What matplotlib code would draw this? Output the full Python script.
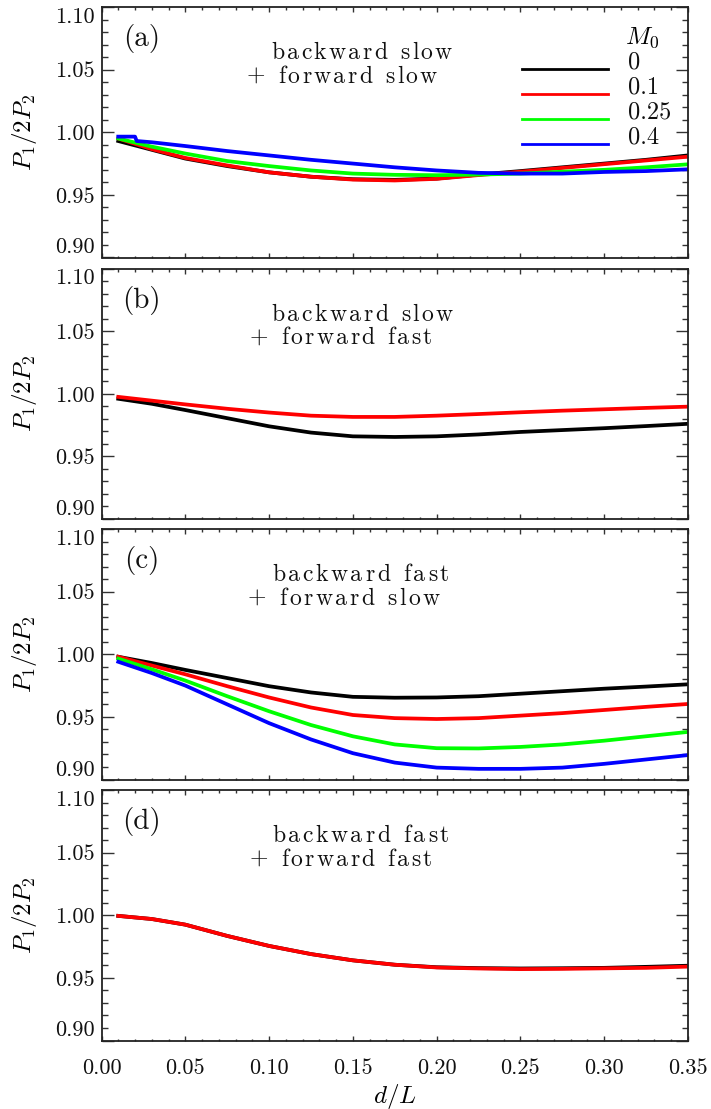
import matplotlib
matplotlib.use("Agg")
import matplotlib.pyplot as plt
from matplotlib.ticker import FixedLocator, MultipleLocator, FixedFormatter
from matplotlib.lines import Line2D
from matplotlib.font_manager import FontProperties
from matplotlib.transforms import offset_copy

plt.rcParams["font.family"] = "cmr10"
plt.rcParams["mathtext.fontset"] = "cm"
plt.rcParams["axes.formatter.use_mathtext"] = True

# ---- data: P1/2P2 versus d/L for each Mach number M0 ----
mach_labels = ["0", "0.1", "0.25", "0.4"]
colors = ["black", "#ff0000", "#00ff00", "#0000ff"]

x_std = [0.01, 0.03, 0.05, 0.075, 0.10, 0.125, 0.15, 0.175, 0.20,
         0.225, 0.25, 0.275, 0.30, 0.325, 0.35]

# (a) backward slow + forward slow
a_x_blue = [0.01, 0.02, 0.021, 0.03, 0.05, 0.075, 0.10, 0.125, 0.15, 0.175,
            0.20, 0.225, 0.25, 0.275, 0.30, 0.325, 0.35]
a_black = [0.993, 0.986, 0.979, 0.973, 0.968, 0.9645, 0.9625, 0.962, 0.963,
           0.9662, 0.969, 0.972, 0.975, 0.978, 0.9815]
a_red = [0.995, 0.9865, 0.9795, 0.9735, 0.968, 0.9645, 0.9622, 0.9615, 0.9628,
         0.9658, 0.9685, 0.9715, 0.9745, 0.9775, 0.9805]
a_green = [0.995, 0.9885, 0.983, 0.977, 0.973, 0.9695, 0.967, 0.966, 0.9657,
           0.9662, 0.967, 0.9685, 0.970, 0.972, 0.9744]
a_blue = [0.9965, 0.9965, 0.993, 0.992, 0.989, 0.985, 0.9815, 0.978, 0.975,
          0.972, 0.9695, 0.9676, 0.967, 0.967, 0.9683, 0.969, 0.9704]

# (b) backward slow + forward fast
b_black = [0.996, 0.992, 0.987, 0.9805, 0.974, 0.969, 0.966, 0.9655, 0.966,
           0.9675, 0.9695, 0.971, 0.9725, 0.9742, 0.976]
b_red = [0.9975, 0.9945, 0.9915, 0.988, 0.985, 0.9825, 0.9815, 0.9815, 0.9825,
         0.9838, 0.9852, 0.9865, 0.9876, 0.9887, 0.9897]

# (c) backward fast + forward slow
c_black = [0.998, 0.993, 0.9875, 0.981, 0.9745, 0.9695, 0.966, 0.9653, 0.9655,
           0.9665, 0.9685, 0.9705, 0.9725, 0.9742, 0.976]
c_red = [0.998, 0.991, 0.984, 0.9745, 0.9655, 0.9575, 0.9515, 0.949, 0.9483,
         0.949, 0.951, 0.953, 0.9555, 0.958, 0.9603]
c_green = [0.9965, 0.988, 0.979, 0.9665, 0.9545, 0.9435, 0.9345, 0.928, 0.925,
           0.9248, 0.926, 0.928, 0.931, 0.9345, 0.938]
c_blue = [0.994, 0.985, 0.975, 0.960, 0.945, 0.932, 0.921, 0.9135, 0.9095,
          0.9085, 0.9085, 0.9095, 0.9125, 0.916, 0.9195]

# (d) backward fast + forward fast
d_black = [0.9995, 0.997, 0.9925, 0.9835, 0.9755, 0.969, 0.964, 0.9605, 0.9585,
           0.9578, 0.9575, 0.9577, 0.958, 0.9588, 0.9597]
d_red = [0.9995, 0.997, 0.9925, 0.9835, 0.9755, 0.969, 0.964, 0.9605, 0.9583,
         0.9575, 0.957, 0.9572, 0.9576, 0.958, 0.959]

panel_tags = ["(a)", "(b)", "(c)", "(d)"]
panel_line1 = ["backward slow", "backward slow", "backward fast", "backward fast"]
panel_line2 = ["+ forward slow", "+ forward fast", "+ forward slow", "+ forward fast"]
panel_series = [
    [(x_std, a_black), (x_std, a_red), (x_std, a_green), (a_x_blue, a_blue)],
    [(x_std, b_black), (x_std, b_red)],
    [(x_std, c_black), (x_std, c_red), (x_std, c_green), (x_std, c_blue)],
    [(x_std, d_black), (x_std, d_red)],
]

y_ticks = [0.90, 0.95, 1.00, 1.05, 1.10]
y_ticklabels = ["0.90", "0.95", "1.00", "1.05", "1.10"]
x_ticks = [0.00, 0.05, 0.10, 0.15, 0.20, 0.25, 0.30, 0.35]
x_ticklabels = ["0.00", "0.05", "0.10", "0.15", "0.20", "0.25", "0.30", "0.35"]

DPI = 100
W, H = 711, 1109
fig = plt.figure(figsize=(W / DPI, H / DPI), dpi=DPI)
renderer = fig.canvas.get_renderer()


def spaced_text(ax, x, y, s, size, width_px):
    """Left-aligned text at (x, y) in axes coords, letter-spaced to width_px."""
    prop = FontProperties(family="cmr10", size=size)

    def w(t):
        return renderer.get_text_width_height_descent(t, prop, ismath=False)[0]

    bar = w("|")
    adv = [0.0] + [w(s[:i] + "|") - bar for i in range(1, len(s))]
    natural = w(s)
    track = max(0.0, (width_px - natural) / (len(s) - 1))
    for i, ch in enumerate(s):
        if ch == " ":
            continue
        dx = (adv[i] + i * track) * 72.0 / DPI
        tr = offset_copy(ax.transAxes, fig=fig, x=dx, y=0, units="points")
        ax.text(x, y, ch, transform=tr, fontproperties=prop,
                ha="left", va="baseline", color="#111111")


left_px, right_px = 101.5, 688.0
tops_px = [7.0, 268.5, 529.0, 790.0]
height_px = 250.5
axw_px = right_px - left_px

line1_left_px = [271, 271, 272, 272]
line1_width_px = [181, 182, 177, 177]
line2_left_px = [247, 250, 248, 250]
line2_width_px = [190, 182, 192, 182]

axes = []
for i in range(4):
    top = tops_px[i]
    ax = fig.add_axes([left_px / W, 1 - (top + height_px) / H,
                       axw_px / W, height_px / H])
    axes.append(ax)
    for (xs, ys), col in zip(panel_series[i], colors):
        ax.plot(xs, ys, color=col, lw=2.7, solid_joinstyle="round")

    ax.set_xlim(0.0, 0.35)
    ax.set_ylim(0.90, 1.10)
    ax.yaxis.set_major_locator(FixedLocator(y_ticks))
    ax.yaxis.set_major_formatter(FixedFormatter(y_ticklabels))
    ax.yaxis.set_minor_locator(MultipleLocator(0.01))
    ax.xaxis.set_major_locator(FixedLocator(x_ticks))
    ax.xaxis.set_minor_locator(MultipleLocator(0.01))
    if i == 3:
        ax.xaxis.set_major_formatter(FixedFormatter(x_ticklabels))
    else:
        ax.xaxis.set_major_formatter(FixedFormatter([""] * len(x_ticks)))

    ax.tick_params(axis="both", which="both", direction="in",
                   top=True, right=True, color="#333333", width=1.0,
                   labelcolor="#111111")
    ax.tick_params(axis="y", which="major", length=8.6, labelsize=16, pad=5)
    ax.tick_params(axis="y", which="minor", length=4.3)
    ax.tick_params(axis="x", which="major", length=3.6, labelsize=16, pad=13)
    ax.tick_params(axis="x", which="minor", length=1.8)
    for sp in ax.spines.values():
        sp.set_linewidth(1.3)
        sp.set_color("#222222")

    # keep the end labels inside the frame
    labs = ax.get_yticklabels()
    labs[0].set_va("bottom")
    labs[-1].set_va("top")

    ax.set_ylabel(r"$P_1/2P_2$", fontsize=18)
    ax.yaxis.set_label_coords(-0.106, 0.5)

    ax.text(0.068, 0.873, panel_tags[i], transform=ax.transAxes, fontsize=21,
            ha="center", va="center", color="#111111")
    spaced_text(ax, (line1_left_px[i] - left_px) / axw_px, 0.791,
                panel_line1[i], 17, line1_width_px[i])
    spaced_text(ax, (line2_left_px[i] - left_px) / axw_px, 0.697,
                panel_line2[i], 17, line2_width_px[i])

axes[3].set_xlabel(r"$d/L$", fontsize=18, labelpad=3)

# Mach-number key in panel (a)
axa = axes[0]
axa.text(0.921, 0.876, r"$M_0$", transform=axa.transAxes, fontsize=18,
         ha="center", va="center")
key_y = [0.752, 0.652, 0.552, 0.452]
for lab, col, ky in zip(mach_labels, colors, key_y):
    axa.add_line(Line2D([0.717, 0.864], [ky, ky], transform=axa.transAxes,
                        color=col, lw=2.0))
    axa.text(0.897, ky + 0.026, lab, transform=axa.transAxes, fontsize=17.5,
             ha="left", va="center", color="#111111")

fig.savefig("out.png", dpi=DPI)
